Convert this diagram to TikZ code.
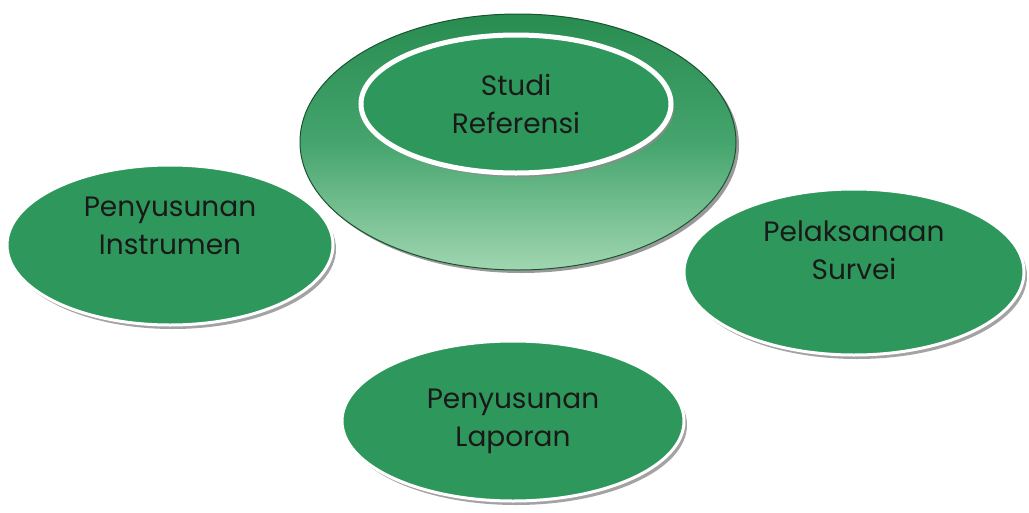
\documentclass[tikz,border=0pt]{standalone}
\usepackage{fontspec}
\setmainfont{Poppins}
\usetikzlibrary{shapes.geometric, shadows}

\definecolor{leafgreen}{RGB}{46,152,92}
\definecolor{darkleaf}{RGB}{40,140,80}
\definecolor{paleleaf}{RGB}{160,214,176}

\begin{document}
\begin{tikzpicture}[
	x=1pt, y=-1pt,
	phase/.style={ellipse, draw=white, line width=3pt, fill=leafgreen, align=center,
		font=\fontsize{28}{38}\selectfont, text=black!90,
		drop shadow={shadow xshift=3pt, shadow yshift=-4pt, fill=black!45, opacity=0.8}},
	hub/.style={ellipse, draw=darkleaf!60!black, line width=1pt,
		top color=darkleaf, bottom color=paleleaf, middle color=leafgreen!80!paleleaf,
		drop shadow={shadow xshift=3pt, shadow yshift=-3pt, fill=black!50, opacity=0.8}}
	]
	\useasboundingbox (0,0) rectangle (1029,512);
	
	% Centre
	\node[hub, minimum width=436pt, minimum height=256pt] (hub) at (518,142) {};
	\node[phase, minimum width=310pt, minimum height=138pt, line width=5pt] (studi) at (516,104) {Studi\\Referensi};
	
	% Phases
	\node[phase, minimum width=326pt, minimum height=160pt] (instrumen) at (170,245) {Penyusunan\\Instrumen\\[0pt]};
	\node[phase, minimum width=340pt, minimum height=166pt] (survei) at (854,272) {Pelaksanaan\\Survei\\[6pt]};
	\node[phase, minimum width=342pt, minimum height=160pt] (laporan) at (513,421) {Penyusunan\\Laporan};
	
\end{tikzpicture}
\end{document}
